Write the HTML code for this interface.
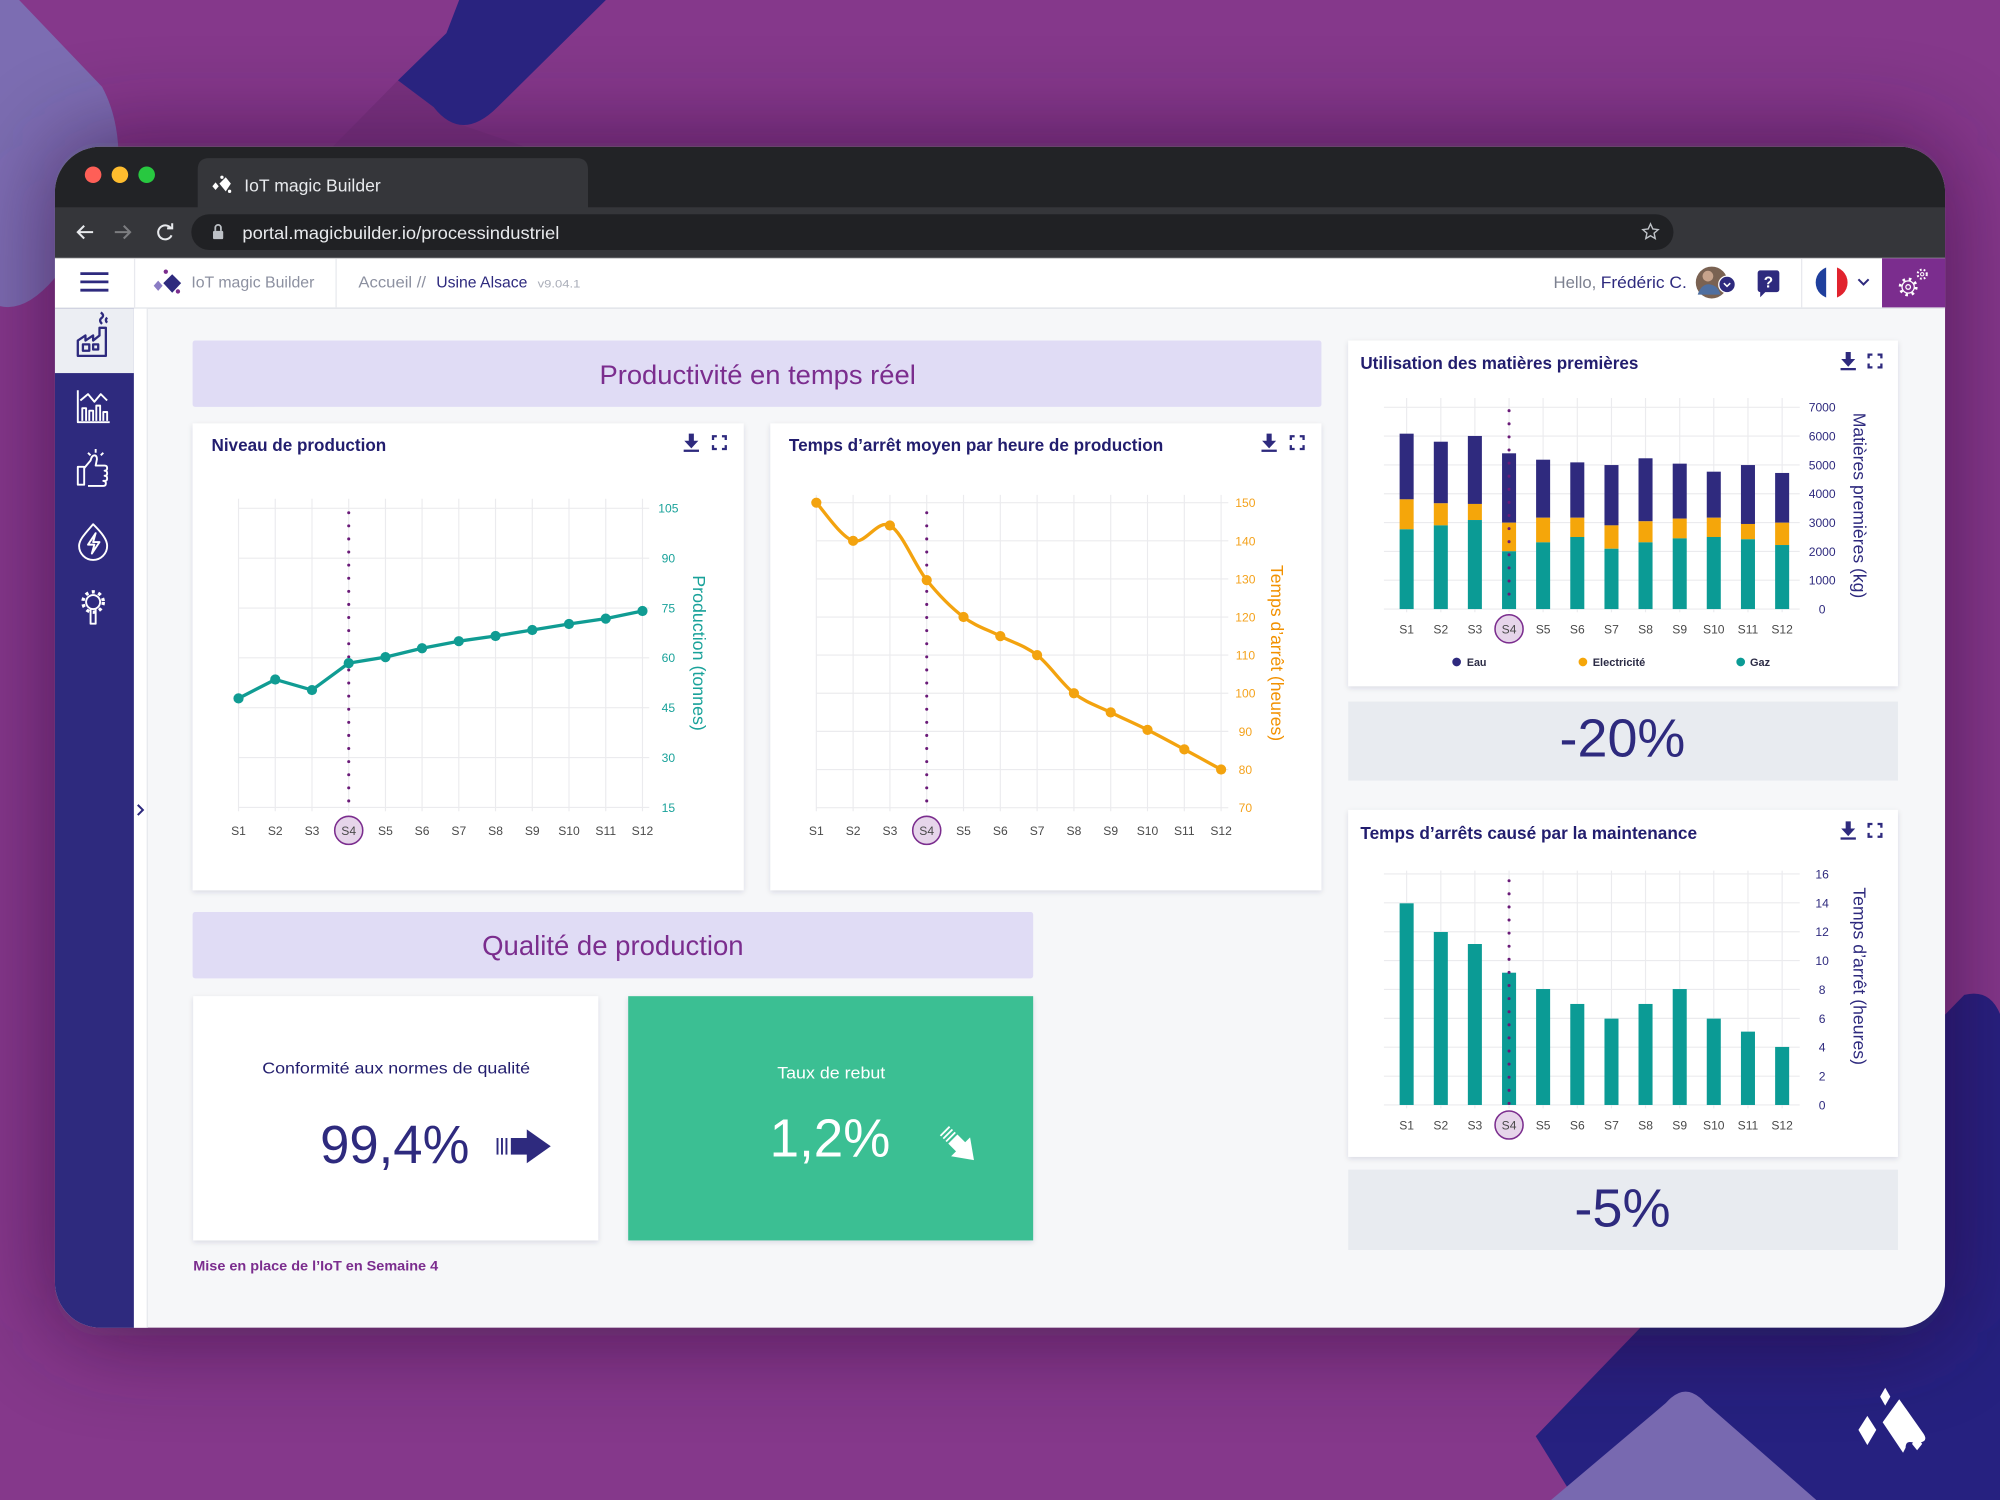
<!DOCTYPE html>
<html><head><meta charset="utf-8">
<style>
html,body{margin:0;padding:0;width:2000px;height:1500px;overflow:hidden;background:#84378b}
svg{display:block}
text{font-family:"Liberation Sans",Arial,sans-serif}
</style></head><body>
<svg width="2000" height="1500" viewBox="0 0 1568 1176" xmlns="http://www.w3.org/2000/svg">
<defs>
 <clipPath id="win"><rect x="43" y="115" width="1482" height="926" rx="36"/></clipPath>
 <clipPath id="flag"><circle cx="1436" cy="221.5" r="12.5"/></clipPath>
 <filter id="sh" x="-5%" y="-5%" width="110%" height="115%"><feDropShadow dx="0" dy="1.5" stdDeviation="2" flood-color="#20204a" flood-opacity="0.12"/></filter>
 <filter id="wblur" x="-20%" y="-30%" width="140%" height="160%"><feGaussianBlur stdDeviation="38"/></filter>
 <g id="dl"><path d="M-2,-7h4v5.5h3.5l-5.5,6l-5.5,-6h3.5z" fill="#2e2a7e"/><rect x="-6" y="5.5" width="12" height="1.8" fill="#2e2a7e"/></g>
 <g id="fs" fill="none" stroke="#2e2a7e" stroke-width="1.8"><path d="M-5,-2v-3h3M2,-5h3v3M5,2v3h-3M-2,5h-3v-3"/></g>
</defs>

<!-- background -->
<rect width="1568" height="1176" fill="#85388b"/>
<path d="M0,0 L15,0 L80,68 Q93,92 93,125 L93,150 L43,218 Q20,245 0,240 Z" fill="#7c6db2"/>
<path d="M1286,1041 L1204,1126 L1235,1176 L1568,1176 L1568,795 Q1560,775 1540,780 Z" fill="#262180"/>
<rect x="43" y="112" width="1482" height="935" rx="36" fill="#2a0b33" opacity="0.6" filter="url(#wblur)"/>
<path d="M312,63 L340,84 L362,98 L420,118 L258,118 Z" fill="#5e2568" opacity="0.35"/>
<path d="M360,0 L475,0 L390,84 Q362,112 340,84 L312,63 L350,26 Z" fill="#29237f"/>
<path d="M1216,1176 L1306,1100 Q1321.5,1082 1337,1100 L1424,1176 Z" fill="#7869b0"/>
<!-- bottom-right logo -->
<g fill="#ffffff">
 <path d="M1478,1088 L1482,1095 L1478,1102 L1474,1095 Z"/>
 <path d="M1464,1110 L1471,1121 L1464,1133 L1457,1121 Z"/>
 <path d="M1489,1097 L1508,1124 Q1512,1130 1505,1131 L1500,1131 Q1494,1129 1494,1135 L1492,1139 L1476,1115 Z"/>
 <path d="M1503,1127 L1507,1132 L1503,1137 L1499,1132 Z"/>
</g>

<!-- window -->
<g clip-path="url(#win)">
 <rect x="43" y="115" width="1482" height="926" fill="#f6f7f9"/>
 <rect x="43" y="115" width="1482" height="48" fill="#222326"/>
 <path d="M155,163 L155,133 Q155,124 164,124 L452,124 Q461,124 461,133 L461,163 Z" fill="#35363a"/>
 <rect x="43" y="162.5" width="1482" height="40" fill="#35363a"/>
 <rect x="43" y="201.5" width="1482" height="1" fill="#56575b"/>
 <rect x="150" y="168" width="1162" height="28" rx="14" fill="#202124"/>
 <circle cx="73" cy="137" r="6.5" fill="#fe5f57"/>
 <circle cx="94" cy="137" r="6.5" fill="#febc2e"/>
 <circle cx="115" cy="137" r="6.5" fill="#28c840"/>
 <g fill="#ffffff"><path d="M177,139 L181,144 L177,150 L172,144 Z"/><path d="M169,143 L171.5,146 L169,149 L166.5,146 Z"/><circle cx="174" cy="139" r="1.3"/><circle cx="180" cy="150" r="1.3"/></g>
 <text x="191.5" y="150" font-size="13.5" fill="#e8eaed" textLength="107" lengthAdjust="spacingAndGlyphs">IoT magic Builder</text>
 <path d="M73,182 H61 M66,177 L61,182 L66,187" stroke="#e8eaed" stroke-width="1.6" fill="none"/>
 <path d="M90,182 H102 M97,177 L102,182 L97,187" stroke="#7c7d80" stroke-width="1.6" fill="none"/>
 <path d="M134,179 A5.5,5.5 0 1 0 134.5,184.5" stroke="#e8eaed" stroke-width="1.6" fill="none"/>
 <path d="M131,179 L135,179 L135,175" stroke="#e8eaed" stroke-width="1.6" fill="none"/>
 <rect x="167" y="181" width="8" height="6.5" rx="1" fill="#bdc1c6"/>
 <path d="M168.8,181 V178.5 A2.2,2.2 0 0 1 173.2,178.5 V181" stroke="#bdc1c6" stroke-width="1.4" fill="none"/>
 <text x="190" y="187.5" font-size="13.5" fill="#e8eaed" textLength="248.5" lengthAdjust="spacingAndGlyphs">portal.magicbuilder.io/processindustriel</text>
 <path d="M1294,175.5 L1295.8,179.5 L1300,180 L1296.8,182.8 L1297.7,187 L1294,184.8 L1290.3,187 L1291.2,182.8 L1288,180 L1292.2,179.5 Z" fill="none" stroke="#bdc1c6" stroke-width="1.1"/>

 <!-- app header -->
 <rect x="43" y="202.5" width="1482" height="38.5" fill="#ffffff"/>
 <rect x="43" y="241" width="1482" height="1.2" fill="#e3e5ea"/>
 <path d="M63,214.5H85M63,221H85M63,227.5H85" stroke="#2e2a7e" stroke-width="2.2"/>
 <rect x="105" y="203" width="1" height="38" fill="#e8e9ee"/>
 <rect x="263" y="203" width="1" height="38" fill="#e8e9ee"/>
 <path d="M135,215 L142,222 L135,229.5 L128,222 Z" fill="#2e2a7e"/>
 <path d="M124,220 L127.5,224 L124,228 L120.5,224 Z" fill="#8a7cc4"/>
 <circle cx="130" cy="213" r="1.7" fill="#7b2d8e"/>
 <circle cx="139.5" cy="228.5" r="1.7" fill="#7b2d8e"/>
 <text x="150" y="225.5" font-size="12.5" fill="#8c90a0" textLength="96.5" lengthAdjust="spacingAndGlyphs">IoT magic Builder</text>
 <text x="281" y="225.5" font-size="12.5" fill="#8c90a0" textLength="53" lengthAdjust="spacingAndGlyphs">Accueil //</text>
 <text x="342" y="225.5" font-size="12.5" fill="#2e2a7e" textLength="71.5" lengthAdjust="spacingAndGlyphs">Usine Alsace</text>
 <text x="421.5" y="225.5" font-size="9" fill="#a9adb8" textLength="33.5" lengthAdjust="spacingAndGlyphs">v9.04.1</text>
 <text x="1218" y="226" font-size="13" fill="#7d8190" textLength="33.5" lengthAdjust="spacingAndGlyphs">Hello,</text>
 <text x="1255" y="226" font-size="13" fill="#2e2a7e" textLength="67.5" lengthAdjust="spacingAndGlyphs">Frédéric C.</text>
 <circle cx="1342" cy="221.5" r="12.5" fill="#7a6252"/>
 <circle cx="1339" cy="216.5" r="4.2" fill="#c7a38c"/>
 <path d="M1331,231 Q1334,222 1341,223 Q1347,224 1349,231 Z" fill="#4f6fa0"/>
 <circle cx="1354" cy="223" r="6.5" fill="#2e2a7e" stroke="#ffffff" stroke-width="1"/>
 <path d="M1351.5,222 L1354,224.5 L1356.5,222" stroke="#ffffff" stroke-width="1.2" fill="none"/>
 <path d="M1380,212 h13 a2,2 0 0 1 2,2 v13 a2,2 0 0 1 -2,2 h-9 l-4,4 v-4 a2,2 0 0 1 -2,-2 v-13 a2,2 0 0 1 2,-2z" fill="#2e2a7e"/>
 <text x="1386.5" y="225.5" font-size="12" font-weight="bold" fill="#ffffff" text-anchor="middle">?</text>
 <rect x="1412" y="203" width="1" height="38" fill="#e8e9ee"/>
 <g clip-path="url(#flag)">
  <rect x="1423" y="208" width="8.8" height="28" fill="#1f3f9d"/>
  <rect x="1431.8" y="208" width="8.4" height="28" fill="#ffffff"/>
  <rect x="1440.2" y="208" width="9" height="28" fill="#e1232e"/>
 </g>
 <path d="M1457,219 L1461,223 L1465,219" stroke="#2e2a7e" stroke-width="1.6" fill="none"/>
 <rect x="1475.5" y="202.5" width="50" height="38.5" fill="#7b2d8e"/>
 <circle cx="1496" cy="225" r="6.3" fill="none" stroke="#ffffff" stroke-width="2.2" stroke-dasharray="2 3"/>
 <circle cx="1496" cy="225" r="4.8" fill="none" stroke="#ffffff" stroke-width="1"/>
 <circle cx="1496" cy="225" r="1.8" fill="none" stroke="#ffffff" stroke-width="1"/>
 <circle cx="1507" cy="215" r="3.6" fill="none" stroke="#ffffff" stroke-width="1.6" stroke-dasharray="1.4 1.6"/>
 <circle cx="1507" cy="215" r="1.3" fill="none" stroke="#ffffff" stroke-width="0.8"/>

 <!-- sidebar -->
 <rect x="43" y="242" width="62" height="800" fill="#2e2a7e"/>
 <rect x="43" y="242" width="62" height="50.5" fill="#eceef3"/>
 <rect x="105" y="242" width="10" height="800" fill="#ffffff"/>
 <rect x="115" y="242" width="1" height="800" fill="#e8eaee"/>
 <path d="M108,631 L112,635 L108,639" stroke="#2e2a7e" stroke-width="1.6" fill="none"/>
 <g fill="none" stroke="#2e2a7e" stroke-width="1.8" stroke-linejoin="round">
  <path d="M61,279 V267 L67,263 V267 L73,263 V267 L78,263 V257 h5 V279 Z"/>
  <rect x="65" y="270" width="5" height="5"/><rect x="73" y="270" width="4" height="4"/>
  <path d="M80,254 q-3,-3 0,-5 q2,-2 -1,-4 M84,253 q-2,-2 0,-4"/>
 </g>
 <g fill="none" stroke="#ffffff" stroke-width="1.5" stroke-linejoin="round">
  <path d="M61,306 V331 H86"/>
  <path d="M64.5,330 V320 h3 V330 M70,330 V322 h3 V330 M75.5,330 V318 h3 V330 M81,330 V323 h3 V330"/>
  <path d="M63,314 L69,309 L74,315 L79,309 L84,314"/>
  <path d="M61,366 h5 v14 h-5 z"/>
  <path d="M66,367 l5,-6 q1,-4 3,-4 q2,0 2,3 l-1,5 h7 q2,0 2,2 q0,2 -2,2 q2,0 2,2 q0,2 -2,2 q2,0 2,2 q0,2 -2,2 h-1 q2,0 2,2 q0,2 -2,2 h-12"/>
  <path d="M75,355 v-3 M79,357 l2,-2 M71,357 l-2,-2"/>
  <path d="M73,411 C67,418 62,423 62,428 a11,11 0 0 0 22,0 c0,-5 -4,-10 -11,-17z"/>
  <path d="M75,418 L69,427 h5 l-2,7 l6,-9 h-5 z"/>
  <circle cx="73" cy="472" r="5.5"/>
  <circle cx="73" cy="472" r="8" stroke-width="2.6" stroke-dasharray="2.4 2.8"/>
  <path d="M71,477 v12 h4 v-12"/>
 </g>

 <!-- section header 1 -->
 <rect x="151" y="267" width="885" height="52" rx="2" fill="#e0dcf5"/>
 <text x="594" y="301" font-size="21" fill="#7b2d8e" text-anchor="middle" textLength="248" lengthAdjust="spacingAndGlyphs">Productivité en temps réel</text>

 <!-- card 1 -->
 <rect x="151" y="332" width="432" height="366" fill="#ffffff" filter="url(#sh)"/>
 <text x="165.8" y="353.6" font-size="13.5" font-weight="bold" fill="#221d6e" textLength="137" lengthAdjust="spacingAndGlyphs">Niveau de production</text>
 <use href="#dl" x="542" y="347"/><use href="#fs" x="564" y="347"/>
 <path d="M187,398.5H509M187,437.6H509M187,476.7H509M187,515.7H509M187,554.8H509M187,593.9H509M187,633H509M187,391V636M215.8,391V636M244.6,391V636M273.4,391V636M302.2,391V636M330.9,391V636M359.7,391V636M388.5,391V636M417.3,391V636M446.1,391V636M474.9,391V636M503.7,391V636" stroke="#ebebee" stroke-width="0.9" fill="none"/>
 <g font-size="9.5" fill="#19a29a" text-anchor="middle">
  <text x="524" y="402">105</text><text x="524" y="441.1">90</text><text x="524" y="480.2">75</text><text x="524" y="519.2">60</text><text x="524" y="558.3">45</text><text x="524" y="597.4">30</text><text x="524" y="636.5">15</text>
 </g>
 <text transform="translate(543.5,512) rotate(90)" font-size="14" fill="#19a29a" text-anchor="middle" textLength="122" lengthAdjust="spacingAndGlyphs">Production (tonnes)</text>
 <line x1="273.4" y1="402" x2="273.4" y2="629" stroke="#6a1a78" stroke-width="2.4" stroke-linecap="round" stroke-dasharray="0 10.27"/>
 <polyline points="187,547.5 215.8,532.7 244.6,541 273.4,519.9 302.2,515.2 330.9,508.2 359.7,502.7 388.5,498.6 417.3,493.9 446.1,489.2 474.9,485 503.7,479" fill="none" stroke="#109c93" stroke-width="2.6" stroke-linejoin="round"/>
 <g fill="#109c93"><circle cx="187" cy="547.5" r="4"/><circle cx="215.8" cy="532.7" r="4"/><circle cx="244.6" cy="541" r="4"/><circle cx="273.4" cy="519.9" r="4"/><circle cx="302.2" cy="515.2" r="4"/><circle cx="330.9" cy="508.2" r="4"/><circle cx="359.7" cy="502.7" r="4"/><circle cx="388.5" cy="498.6" r="4"/><circle cx="417.3" cy="493.9" r="4"/><circle cx="446.1" cy="489.2" r="4"/><circle cx="474.9" cy="485" r="4"/><circle cx="503.7" cy="479" r="4"/></g>
 <circle cx="273.4" cy="651" r="11" fill="#e6d5ea" stroke="#7b2d8e" stroke-width="1.2"/>
 <g font-size="9.5" fill="#4a4a4a" text-anchor="middle">
  <text x="187" y="654.5">S1</text><text x="215.8" y="654.5">S2</text><text x="244.6" y="654.5">S3</text><text x="273.4" y="654.5">S4</text><text x="302.2" y="654.5">S5</text><text x="330.9" y="654.5">S6</text><text x="359.7" y="654.5">S7</text><text x="388.5" y="654.5">S8</text><text x="417.3" y="654.5">S9</text><text x="446.1" y="654.5">S10</text><text x="474.9" y="654.5">S11</text><text x="503.7" y="654.5">S12</text>
 </g>

 <!-- card 2 -->
 <rect x="604" y="332" width="432" height="366" fill="#ffffff" filter="url(#sh)"/>
 <text x="618.5" y="353.6" font-size="13.5" font-weight="bold" fill="#221d6e" textLength="293.5" lengthAdjust="spacingAndGlyphs">Temps d’arrêt moyen par heure de production</text>
 <use href="#dl" x="995" y="347"/><use href="#fs" x="1017" y="347"/>
 <path d="M640,394.1H963M640,424H963M640,453.9H963M640,483.75H963M640,513.6H963M640,543.5H963M640,573.4H963M640,603.3H963M640,633.2H963M640,388V636M668.85,388V636M697.7,388V636M726.55,388V636M755.4,388V636M784.25,388V636M813.1,388V636M841.95,388V636M870.8,388V636M899.65,388V636M928.5,388V636M957.35,388V636" stroke="#ebebee" stroke-width="0.9" fill="none"/>
 <g font-size="9.5" fill="#f4a21c" text-anchor="middle">
  <text x="976.4" y="397.6">150</text><text x="976.4" y="427.5">140</text><text x="976.4" y="457.4">130</text><text x="976.4" y="487.2">120</text><text x="976.4" y="517.1">110</text><text x="976.4" y="547">100</text><text x="976.4" y="576.9">90</text><text x="976.4" y="606.8">80</text><text x="976.4" y="636.7">70</text>
 </g>
 <text transform="translate(996.5,512) rotate(90)" font-size="13.6" fill="#f29100" text-anchor="middle" textLength="138" lengthAdjust="spacingAndGlyphs">Temps d’arrêt (heures)</text>
 <line x1="726.55" y1="402" x2="726.55" y2="629" stroke="#6a1a78" stroke-width="2.4" stroke-linecap="round" stroke-dasharray="0 10.27"/>
 <path d="M640,394.1 C644.8,399.1 659.23,421.0 668.85,424 C678.47,426.98 688.08,406.87 697.7,412 C707.32,417.13 716.93,442.84 726.55,454.8 C736.17,466.76 745.78,476.43 755.4,483.75 C765.02,491.07 774.63,493.72 784.25,498.7 C793.87,503.68 803.48,506.13 813.1,513.6 C822.72,521.07 832.33,536.02 841.95,543.5 C851.57,550.98 861.18,553.72 870.8,558.5 C880.42,563.28 890.03,567.37 899.65,572.2 C909.27,577.03 918.88,582.32 928.5,587.5 C938.12,592.68 952.55,600.67 957.35,603.3" fill="none" stroke="#f3a30f" stroke-width="2.6"/>
 <g fill="#f3a30f"><circle cx="640" cy="394.1" r="4"/><circle cx="668.85" cy="424" r="4"/><circle cx="697.7" cy="412" r="4"/><circle cx="726.55" cy="454.8" r="4"/><circle cx="755.4" cy="483.75" r="4"/><circle cx="784.25" cy="498.7" r="4"/><circle cx="813.1" cy="513.6" r="4"/><circle cx="841.95" cy="543.5" r="4"/><circle cx="870.8" cy="558.5" r="4"/><circle cx="899.65" cy="572.2" r="4"/><circle cx="928.5" cy="587.5" r="4"/><circle cx="957.35" cy="603.3" r="4"/></g>
 <circle cx="726.55" cy="651" r="11" fill="#e6d5ea" stroke="#7b2d8e" stroke-width="1.2"/>
 <g font-size="9.5" fill="#4a4a4a" text-anchor="middle">
  <text x="640" y="654.5">S1</text><text x="668.85" y="654.5">S2</text><text x="697.7" y="654.5">S3</text><text x="726.55" y="654.5">S4</text><text x="755.4" y="654.5">S5</text><text x="784.25" y="654.5">S6</text><text x="813.1" y="654.5">S7</text><text x="841.95" y="654.5">S8</text><text x="870.8" y="654.5">S9</text><text x="899.65" y="654.5">S10</text><text x="928.5" y="654.5">S11</text><text x="957.35" y="654.5">S12</text>
 </g>

 <!-- card 3 -->
 <rect x="1057" y="267" width="431" height="271" fill="#ffffff" filter="url(#sh)"/>
 <text x="1066.5" y="289.3" font-size="13.5" font-weight="bold" fill="#221d6e" textLength="218" lengthAdjust="spacingAndGlyphs">Utilisation des matières premières</text>
 <use href="#dl" x="1449" y="283"/><use href="#fs" x="1470" y="283"/>
 <path d="M1085,319.3H1411M1085,341.9H1411M1085,364.5H1411M1085,387.1H1411M1085,409.7H1411M1085,432.3H1411M1085,454.9H1411M1085,477.5H1411M1102.8,312V480M1129.6,312V480M1156.3,312V480M1183.1,312V480M1209.8,312V480M1236.6,312V480M1263.4,312V480M1290.1,312V480M1316.9,312V480M1343.6,312V480M1370.4,312V480M1397.2,312V480" stroke="#ebebee" stroke-width="0.9" fill="none"/>
 <g fill="#2f2a7e">
  <rect x="1097.3" y="340" width="11" height="51.5"/><rect x="1124.1" y="346.3" width="11" height="48.3"/><rect x="1150.8" y="341.8" width="11" height="53.3"/><rect x="1177.6" y="355.4" width="11" height="54.4"/><rect x="1204.3" y="360.4" width="11" height="45.5"/><rect x="1231.1" y="362.5" width="11" height="43.4"/><rect x="1257.9" y="364.6" width="11" height="47.3"/><rect x="1284.6" y="359.3" width="11" height="49.4"/><rect x="1311.4" y="363.5" width="11" height="43.1"/><rect x="1338.1" y="369.8" width="11" height="36.1"/><rect x="1364.9" y="364.6" width="11" height="46.2"/><rect x="1391.7" y="370.8" width="11" height="39"/>
 </g>
 <g fill="#f5a60a">
  <rect x="1097.3" y="391.5" width="11" height="23.5"/><rect x="1124.1" y="394.6" width="11" height="17.3"/><rect x="1150.8" y="395.1" width="11" height="12.6"/><rect x="1177.6" y="409.8" width="11" height="22.4"/><rect x="1204.3" y="405.9" width="11" height="19.3"/><rect x="1231.1" y="405.9" width="11" height="15.1"/><rect x="1257.9" y="411.9" width="11" height="18.3"/><rect x="1284.6" y="408.7" width="11" height="16.5"/><rect x="1311.4" y="406.6" width="11" height="15.5"/><rect x="1338.1" y="405.9" width="11" height="15.1"/><rect x="1364.9" y="410.8" width="11" height="12"/><rect x="1391.7" y="409.8" width="11" height="17.5"/>
 </g>
 <g fill="#0b9b95">
  <rect x="1097.3" y="415" width="11" height="62.5"/><rect x="1124.1" y="411.9" width="11" height="65.6"/><rect x="1150.8" y="407.7" width="11" height="69.8"/><rect x="1177.6" y="432.2" width="11" height="45.3"/><rect x="1204.3" y="425.2" width="11" height="52.3"/><rect x="1231.1" y="421" width="11" height="56.5"/><rect x="1257.9" y="430.2" width="11" height="47.3"/><rect x="1284.6" y="425.2" width="11" height="52.3"/><rect x="1311.4" y="422.1" width="11" height="55.4"/><rect x="1338.1" y="421" width="11" height="56.5"/><rect x="1364.9" y="422.8" width="11" height="54.7"/><rect x="1391.7" y="427.3" width="11" height="50.2"/>
 </g>
 <line x1="1183.1" y1="322" x2="1183.1" y2="476" stroke="#6a1a78" stroke-width="2.4" stroke-linecap="round" stroke-dasharray="0 10.27"/>
 <g font-size="9.5" fill="#2e2a7e" text-anchor="middle">
  <text x="1428.6" y="322.8">7000</text><text x="1428.6" y="345.4">6000</text><text x="1428.6" y="368">5000</text><text x="1428.6" y="390.6">4000</text><text x="1428.6" y="413.2">3000</text><text x="1428.6" y="435.8">2000</text><text x="1428.6" y="458.4">1000</text><text x="1428.6" y="481">0</text>
 </g>
 <text transform="translate(1453,396.3) rotate(90)" font-size="14" fill="#2e2a7e" text-anchor="middle" textLength="145.5" lengthAdjust="spacingAndGlyphs">Matières premières (kg)</text>
 <circle cx="1183.1" cy="493" r="11" fill="#e6d5ea" stroke="#7b2d8e" stroke-width="1.2"/>
 <g font-size="9.5" fill="#4a4a4a" text-anchor="middle">
  <text x="1102.8" y="496.5">S1</text><text x="1129.6" y="496.5">S2</text><text x="1156.3" y="496.5">S3</text><text x="1183.1" y="496.5">S4</text><text x="1209.8" y="496.5">S5</text><text x="1236.6" y="496.5">S6</text><text x="1263.4" y="496.5">S7</text><text x="1290.1" y="496.5">S8</text><text x="1316.9" y="496.5">S9</text><text x="1343.6" y="496.5">S10</text><text x="1370.4" y="496.5">S11</text><text x="1397.2" y="496.5">S12</text>
 </g>
 <circle cx="1142" cy="519" r="3.4" fill="#2f2a7e"/>
 <circle cx="1241" cy="519" r="3.4" fill="#f5a60a"/>
 <circle cx="1364.7" cy="519" r="3.4" fill="#0b9b95"/>
 <g font-size="8.5" font-weight="bold" fill="#2b2b45">
  <text x="1150" y="522" textLength="15.4" lengthAdjust="spacingAndGlyphs">Eau</text>
  <text x="1248.7" y="522" textLength="41.2" lengthAdjust="spacingAndGlyphs">Electricité</text>
  <text x="1372" y="522" textLength="15.7" lengthAdjust="spacingAndGlyphs">Gaz</text>
 </g>
 <rect x="1057" y="550" width="431" height="62" fill="#e8ebf0"/>
 <text x="1272" y="593.2" font-size="42" fill="#2e2a7e" text-anchor="middle" textLength="98.6" lengthAdjust="spacingAndGlyphs">-20%</text>

 <!-- card 4 -->
 <rect x="1057" y="635" width="431" height="272" fill="#ffffff" filter="url(#sh)"/>
 <text x="1066.5" y="657.8" font-size="13.5" font-weight="bold" fill="#221d6e" textLength="264" lengthAdjust="spacingAndGlyphs">Temps d’arrêts causé par la maintenance</text>
 <use href="#dl" x="1449" y="651"/><use href="#fs" x="1470" y="651"/>
 <path d="M1085,685.2H1411M1085,707.8H1411M1085,730.5H1411M1085,753.1H1411M1085,775.7H1411M1085,798.4H1411M1085,821H1411M1085,843.7H1411M1085,866.3H1411M1102.8,682.6V869M1129.6,682.6V869M1156.3,682.6V869M1183.1,682.6V869M1209.8,682.6V869M1236.6,682.6V869M1263.4,682.6V869M1290.1,682.6V869M1316.9,682.6V869M1343.6,682.6V869M1370.4,682.6V869M1397.2,682.6V869" stroke="#ebebee" stroke-width="0.9" fill="none"/>
 <g fill="#0b9b95">
  <rect x="1097.3" y="708.2" width="11" height="158.1"/><rect x="1124.1" y="730.7" width="11" height="135.6"/><rect x="1150.8" y="740.1" width="11" height="126.2"/><rect x="1177.6" y="762.6" width="11" height="103.7"/><rect x="1204.3" y="775.4" width="11" height="90.9"/><rect x="1231.1" y="787.1" width="11" height="79.2"/><rect x="1257.9" y="798.6" width="11" height="67.7"/><rect x="1284.6" y="787.1" width="11" height="79.2"/><rect x="1311.4" y="775.4" width="11" height="90.9"/><rect x="1338.1" y="798.6" width="11" height="67.7"/><rect x="1364.9" y="808.8" width="11" height="57.5"/><rect x="1391.7" y="820.8" width="11" height="45.5"/>
 </g>
 <line x1="1183.1" y1="690.5" x2="1183.1" y2="865.5" stroke="#6a1a78" stroke-width="2.4" stroke-linecap="round" stroke-dasharray="0 10.27"/>
 <g font-size="9.5" fill="#2e2a7e" text-anchor="middle">
  <text x="1428.6" y="688.7">16</text><text x="1428.6" y="711.3">14</text><text x="1428.6" y="734">12</text><text x="1428.6" y="756.6">10</text><text x="1428.6" y="779.2">8</text><text x="1428.6" y="801.9">6</text><text x="1428.6" y="824.5">4</text><text x="1428.6" y="847.2">2</text><text x="1428.6" y="869.8">0</text>
 </g>
 <text transform="translate(1453,765.3) rotate(90)" font-size="13.6" fill="#2e2a7e" text-anchor="middle" textLength="139.3" lengthAdjust="spacingAndGlyphs">Temps d’arrêt (heures)</text>
 <circle cx="1183.1" cy="882" r="11" fill="#e6d5ea" stroke="#7b2d8e" stroke-width="1.2"/>
 <g font-size="9.5" fill="#4a4a4a" text-anchor="middle">
  <text x="1102.8" y="885.5">S1</text><text x="1129.6" y="885.5">S2</text><text x="1156.3" y="885.5">S3</text><text x="1183.1" y="885.5">S4</text><text x="1209.8" y="885.5">S5</text><text x="1236.6" y="885.5">S6</text><text x="1263.4" y="885.5">S7</text><text x="1290.1" y="885.5">S8</text><text x="1316.9" y="885.5">S9</text><text x="1343.6" y="885.5">S10</text><text x="1370.4" y="885.5">S11</text><text x="1397.2" y="885.5">S12</text>
 </g>
 <rect x="1057" y="917" width="431" height="63" fill="#e8ebf0"/>
 <text x="1272" y="961.7" font-size="42" fill="#2e2a7e" text-anchor="middle" textLength="75.4" lengthAdjust="spacingAndGlyphs">-5%</text>

 <!-- quality section -->
 <rect x="151" y="715" width="659" height="52" rx="2" fill="#e0dcf5"/>
 <text x="480.5" y="748.7" font-size="21.5" fill="#7b2d8e" text-anchor="middle" textLength="205" lengthAdjust="spacingAndGlyphs">Qualité de production</text>
 <rect x="151.5" y="781" width="317.5" height="191.5" fill="#ffffff" filter="url(#sh)"/>
 <text x="310.6" y="841.5" font-size="12.5" fill="#231e6e" text-anchor="middle" textLength="210" lengthAdjust="spacingAndGlyphs">Conformité aux normes de qualité</text>
 <text x="251" y="912" font-size="42" fill="#2e2a7e" textLength="117" lengthAdjust="spacingAndGlyphs">99,4%</text>
 <g fill="#2e2a7e">
  <rect x="389.3" y="892.2" width="1.5" height="13"/><rect x="392.8" y="892.2" width="1.5" height="13"/><rect x="396.3" y="892.2" width="1.5" height="13"/>
  <rect x="400.5" y="892.2" width="14" height="13"/>
  <path d="M413,885.4 L431.8,898.7 L413,912 Z"/>
 </g>
 <rect x="492.5" y="781" width="317.5" height="191.5" fill="#3bbf93" filter="url(#sh)"/>
 <text x="651.7" y="845.4" font-size="13" fill="#ffffff" text-anchor="middle" textLength="84.7" lengthAdjust="spacingAndGlyphs">Taux de rebut</text>
 <text x="603.4" y="906.8" font-size="42" fill="#ffffff" textLength="94.6" lengthAdjust="spacingAndGlyphs">1,2%</text>
 <g transform="translate(752,898) rotate(45) scale(0.78)" fill="#ffffff">
  <rect x="-21" y="-6.5" width="1.8" height="13"/><rect x="-17" y="-6.5" width="1.8" height="13"/><rect x="-13" y="-6.5" width="1.8" height="13"/>
  <rect x="-9" y="-6.5" width="13" height="13"/>
  <path d="M2,-13.5 L21,0 L2,13.5 Z"/>
 </g>
 <text x="151.5" y="996.2" font-size="11" font-weight="bold" fill="#7b2d8e" textLength="192" lengthAdjust="spacingAndGlyphs">Mise en place de l’IoT en Semaine 4</text>
</g>
</svg>
</body></html>
